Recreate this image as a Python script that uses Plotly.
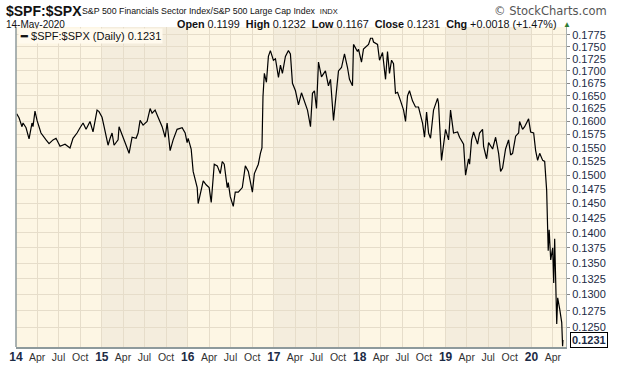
import numpy as np
import pandas as pd
import plotly.graph_objects as go

# decimal-year positions and ratio values
years = [2014.008, 2014.035, 2014.070, 2014.082, 2014.117, 2014.152, 2014.186, 2014.198, 2014.221, 2014.245,
         2014.291, 2014.315, 2014.350, 2014.385, 2014.431, 2014.466, 2014.513, 2014.571, 2014.629, 2014.664,
         2014.711, 2014.746, 2014.781, 2014.816, 2014.862, 2014.897, 2014.944, 2014.967, 2015.002, 2015.026,
         2015.061, 2015.072, 2015.096, 2015.119, 2015.142, 2015.189, 2015.200, 2015.235, 2015.270, 2015.317,
         2015.352, 2015.399, 2015.422, 2015.445, 2015.480, 2015.527, 2015.562, 2015.585, 2015.620, 2015.655,
         2015.702, 2015.737, 2015.760, 2015.795, 2015.830, 2015.876, 2015.935, 2015.970, 2015.993, 2016.005,
         2016.040, 2016.063, 2016.086, 2016.110, 2016.121, 2016.145, 2016.156, 2016.180, 2016.214, 2016.249,
         2016.273, 2016.308, 2016.343, 2016.378, 2016.401, 2016.424, 2016.459, 2016.471, 2016.494, 2016.529,
         2016.552, 2016.587, 2016.634, 2016.669, 2016.704, 2016.727, 2016.751, 2016.774, 2016.820, 2016.844,
         2016.862, 2016.874, 2016.890, 2016.914, 2016.937, 2016.960, 2016.995, 2017.019, 2017.054, 2017.077,
         2017.100, 2017.135, 2017.170, 2017.193, 2017.217, 2017.252, 2017.287, 2017.322, 2017.357, 2017.392,
         2017.427, 2017.450, 2017.473, 2017.497, 2017.520, 2017.555, 2017.601, 2017.636, 2017.660, 2017.695,
         2017.718, 2017.753, 2017.788, 2017.823, 2017.858, 2017.881, 2017.916, 2017.928, 2017.974, 2017.986,
         2018.021, 2018.044, 2018.103, 2018.126, 2018.149, 2018.161, 2018.208, 2018.231, 2018.266, 2018.301,
         2018.324, 2018.347, 2018.371, 2018.394, 2018.417, 2018.441, 2018.476, 2018.511, 2018.534, 2018.557,
         2018.580, 2018.615, 2018.650, 2018.685, 2018.732, 2018.755, 2018.779, 2018.802, 2018.825, 2018.860,
         2018.907, 2018.918, 2018.953, 2018.977, 2019.000, 2019.035, 2019.058, 2019.093, 2019.140, 2019.163,
         2019.210, 2019.233, 2019.256, 2019.268, 2019.280, 2019.303, 2019.326, 2019.373, 2019.396, 2019.431,
         2019.443, 2019.478, 2019.501, 2019.548, 2019.583, 2019.618, 2019.641, 2019.664, 2019.699, 2019.734,
         2019.758, 2019.781, 2019.816, 2019.851, 2019.862, 2019.897, 2019.921, 2019.967, 2019.991, 2020.026,
         2020.049, 2020.072, 2020.096, 2020.131, 2020.154, 2020.177, 2020.195, 2020.206, 2020.224, 2020.247,
         2020.259, 2020.270, 2020.294, 2020.305, 2020.329, 2020.352, 2020.362, 2020.367]

ratio = [0.1615, 0.1607, 0.1590, 0.1597, 0.1588, 0.1567, 0.1597, 0.1590, 0.1620, 0.1602,
         0.1578, 0.1572, 0.1565, 0.1558, 0.1565, 0.1568, 0.1553, 0.1557, 0.1550, 0.1568,
         0.1578, 0.1588, 0.1597, 0.1585, 0.1600, 0.1580, 0.1622, 0.1619, 0.1608, 0.1590,
         0.1558, 0.1555, 0.1568, 0.1578, 0.1555, 0.1565, 0.1590, 0.1573, 0.1560, 0.1540,
         0.1570, 0.1568, 0.1578, 0.1602, 0.1593, 0.1600, 0.1625, 0.1616, 0.1622, 0.1608,
         0.1590, 0.1570, 0.1597, 0.1545, 0.1565, 0.1585, 0.1588, 0.1578, 0.1560, 0.1568,
         0.1548, 0.1507, 0.1495, 0.1478, 0.1450, 0.1466, 0.1473, 0.1490, 0.1483, 0.1478,
         0.1452, 0.1520, 0.1517, 0.1503, 0.1525, 0.1520, 0.1478, 0.1487, 0.1462, 0.1445,
         0.1470, 0.1470, 0.1478, 0.1517, 0.1507, 0.1490, 0.1470, 0.1503, 0.1520, 0.1540,
         0.1550, 0.1648, 0.1695, 0.1677, 0.1730, 0.1742, 0.1722, 0.1725, 0.1687, 0.1712,
         0.1695, 0.1730, 0.1742, 0.1735, 0.1675, 0.1660, 0.1632, 0.1656, 0.1640, 0.1622,
         0.1590, 0.1655, 0.1660, 0.1625, 0.1718, 0.1688, 0.1700, 0.1670, 0.1683, 0.1602,
         0.1640, 0.1700, 0.1707, 0.1735, 0.1707, 0.1683, 0.1670, 0.1755, 0.1740, 0.1745,
         0.1718, 0.1745, 0.1755, 0.1768, 0.1768, 0.1760, 0.1755, 0.1722, 0.1738, 0.1683,
         0.1740, 0.1695, 0.1722, 0.1715, 0.1655, 0.1657, 0.1640, 0.1622, 0.1600, 0.1650,
         0.1660, 0.1640, 0.1628, 0.1628, 0.1597, 0.1570, 0.1618, 0.1578, 0.1568, 0.1622,
         0.1645, 0.1635, 0.1527, 0.1557, 0.1585, 0.1565, 0.1622, 0.1578, 0.1580, 0.1570,
         0.1557, 0.1500, 0.1525, 0.1530, 0.1520, 0.1565, 0.1580, 0.1557, 0.1578, 0.1585,
         0.1553, 0.1530, 0.1560, 0.1548, 0.1570, 0.1540, 0.1507, 0.1513, 0.1548, 0.1565,
         0.1537, 0.1540, 0.1572, 0.1578, 0.1600, 0.1585, 0.1590, 0.1605, 0.1580, 0.1578,
         0.1545, 0.1527, 0.1540, 0.1527, 0.1525, 0.1473, 0.1370, 0.1405, 0.1355, 0.1375,
         0.1318, 0.1390, 0.1255, 0.1295, 0.1277, 0.1257, 0.1222, 0.1231]

y_ticks = [0.1250, 0.1275, 0.1300, 0.1325, 0.1350, 0.1375, 0.1400, 0.1425, 0.1450, 0.1475,
           0.1500, 0.1525, 0.1550, 0.1575, 0.1600, 0.1625, 0.1650, 0.1675, 0.1700, 0.1725,
           0.1750, 0.1775]
tick_years = [2014, 2015, 2016, 2017, 2018, 2019, 2020]
month_labels = ["Apr", "Jul", "Oct"]
shaded_years = [2015, 2017, 2019]

def dec_to_date(y):
    yr = int(np.floor(y))
    start = pd.Timestamp(year=yr, month=1, day=1)
    end = pd.Timestamp(year=yr + 1, month=1, day=1)
    return start + (end - start) * (y - yr)

dates = [dec_to_date(y) for y in years]
dates[-1] = pd.Timestamp("2020-05-14")

FONT = "Liberation Sans, Arial, sans-serif"
NAVY = "#1c2b45"

tickvals, ticktext = [], []
for yr in tick_years:
    tickvals.append(f"{yr}-01-01")
    ticktext.append(f"<b><span style='color:{NAVY};font-size:12px'>{str(yr)[2:]}</span></b>")
    for m, lab in zip([4, 7, 10], month_labels):
        if yr == 2020 and m > 4:
            continue
        tickvals.append(f"{yr}-{m:02d}-01")
        ticktext.append(lab)

fig = go.Figure()
fig.add_trace(go.Scatter(x=dates, y=ratio, mode="lines",
                         line=dict(color="#000000", width=1.2), hoverinfo="x+y"))

shapes = []
for yr in shaded_years:
    shapes.append(dict(type="rect", xref="x", yref="paper", x0=f"{yr}-01-01", x1=f"{yr+1}-01-01",
                       y0=0, y1=1, fillcolor="#F4EDDD", line=dict(width=0), layer="below"))
shapes.append(dict(type="line", xref="paper", yref="paper", x0=0, x1=0, y0=0, y1=1,
                   line=dict(color="#8E9A9C", width=1.5)))

ann = []
ann.append(dict(xref="paper", yref="paper", x=-0.022, y=1.05, xanchor="left", yanchor="middle",
                text="<b>$SPF:$SPX</b>", showarrow=False, font=dict(family=FONT, size=14, color="#111")))
ann.append(dict(xref="paper", yref="paper", x=0.116, y=1.05, xanchor="left", yanchor="middle",
                text="S&P 500 Financials Sector Index/S&P 500 Large Cap Index  <span style='font-size:7.5px'>INDX</span>",
                showarrow=False, font=dict(family=FONT, size=8.8, color="#111")))
ann.append(dict(xref="paper", yref="paper", x=1.078, y=1.05, xanchor="right", yanchor="middle",
                text="© StockCharts.com", showarrow=False, font=dict(family="DejaVu Sans", size=11.5, color="#555")))
ann.append(dict(xref="paper", yref="paper", x=-0.022, y=1.009, xanchor="left", yanchor="middle",
                text="14-May-2020", showarrow=False, font=dict(family=FONT, size=10, color="#111")))
ann.append(dict(xref="paper", yref="paper", x=0.987, y=1.009, xanchor="right", yanchor="middle",
                text="<b>Open</b> 0.1199  <b>High</b> 0.1232  <b>Low</b> 0.1167  <b>Close</b> 0.1231  <b>Chg</b> +0.0018 (+1.47%)",
                showarrow=False, font=dict(family=FONT, size=10.8, color="#111")))
ann.append(dict(xref="paper", yref="paper", x=0.99, y=1.009, xanchor="left", yanchor="middle",
                text="▲", showarrow=False, font=dict(family=FONT, size=8, color="#2e7d32")))
ann.append(dict(xref="paper", yref="paper", x=0.003, y=0.998, xanchor="left", yanchor="top",
                text="<b>━</b> $SPF:$SPX (Daily) 0.1231", showarrow=False, bgcolor="#FFFAEE",
                borderpad=1, font=dict(family=FONT, size=11, color="#111")))
ann.append(dict(xref="paper", yref="y", x=1, y=np.log10(ratio[-1]), xanchor="left", yanchor="middle",
                xshift=4, text="<b>0.1231</b>", showarrow=False, bgcolor="#FFFFFF",
                bordercolor="#000000", borderwidth=1, borderpad=1,
                font=dict(family=FONT, size=11, color=NAVY)))

fig.update_layout(
    width=620, height=376,
    margin=dict(l=16, r=54, t=27, b=29, autoexpand=False),
    paper_bgcolor="#FFFFFF", plot_bgcolor="#FDF6E4",
    showlegend=False, shapes=shapes, annotations=ann,
    font=dict(family=FONT, size=11, color="#222"),
    xaxis=dict(type="date", range=["2014-01-01", "2020-05-27"], tickvals=tickvals, ticktext=ticktext,
               showgrid=True, gridcolor="#E6DDCA", gridwidth=1, showline=True, linecolor="#8E9A9C",
               linewidth=1.5, ticks="", zeroline=False, automargin=False,
               tickfont=dict(family=FONT, size=10.5, color="#333"), tickangle=0),
    yaxis=dict(type="log", side="right", range=[np.log10(0.12207), np.log10(0.17920)],
               tickvals=y_ticks, ticktext=[f"{v:.4f}" for v in y_ticks], automargin=False,
               showgrid=True, gridcolor="#E6DDCA", gridwidth=1, showline=True, linecolor="#AAB2B2",
               ticks="outside", ticklen=3, tickcolor="#888", zeroline=False,
               tickfont=dict(family=FONT, size=11, color=NAVY)),
)

fig.write_html("out.html", config={"displayModeBar": False},
               post_script="document.body.style.margin='0';document.body.style.overflow='hidden';")
